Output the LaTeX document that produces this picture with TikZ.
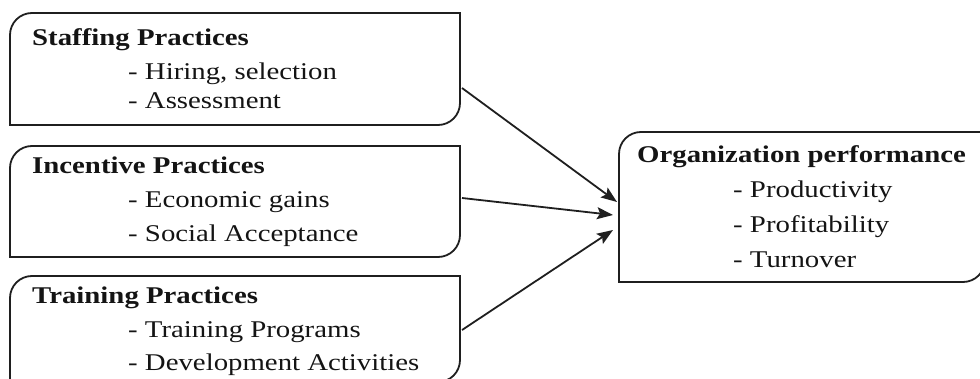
\documentclass[tikz,border=0pt]{standalone}
\usepackage{fontspec}
\setmainfont{Liberation Serif}[FakeStretch=1.2]
\usetikzlibrary{arrows.meta}
\newcommand\roundbox[2]{\draw[outline] (#1.south west) -- ([yshift=-#2]#1.north west) arc[start angle=180,end angle=90,radius=#2] -- (#1.north east) -- ([yshift=#2]#1.south east) arc[start angle=0,end angle=-90,radius=#2] -- cycle;}
\begin{document}
\begin{tikzpicture}[x=1pt,y=1pt,
  boxarea/.style={draw=none, inner sep=0pt, outer sep=0pt, anchor=south west},
  ttl/.style={anchor=base west, inner sep=0pt, font=\fontsize{24}{28}\selectfont\bfseries, text=black!92},
  itm/.style={anchor=base west, inner sep=0pt, font=\fontsize{24}{28}\selectfont, text=black!92},
  outline/.style={line width=1.8pt, draw=black!88},
  arr/.style={line width=1.8pt, draw=black!88, -{Stealth[length=16pt,width=12pt,inset=3pt]}}]
\useasboundingbox (0,0) rectangle (980,378);
\clip (0,0) rectangle (980,378);
% box areas
\node[boxarea, minimum width=450pt, minimum height=112pt] (b1) at (10,253) {};
\node[boxarea, minimum width=450pt, minimum height=111pt] (b2) at (10,121) {};
\node[boxarea, minimum width=450pt, minimum height=106pt] (b3) at (10,-4) {};
\node[boxarea, minimum width=366pt, minimum height=150pt] (b4) at (619,96) {};
\roundbox{b1}{22pt}
\roundbox{b2}{22pt}
\roundbox{b3}{22pt}
\roundbox{b4}{22pt}
% texts
\node[ttl] (s0) at (32,332) {Staffing Practices};
\node[itm] (s1) at (128,298) {- Hiring, selection};
\node[itm] (s2) at (128,269) {- Assessment};
\node[ttl] (i0) at (32,204) {Incentive Practices};
\node[itm] (i1) at (128,170) {- Economic gains};
\node[itm] (i2) at (128,136) {- Social Acceptance};
\node[ttl] (t0) at (32,75) {Training Practices};
\node[itm] (t1) at (128,41) {- Training Programs};
\node[itm] (t2) at (128,8) {- Development Activities};
\node[ttl] (o0) at (637,215) {Organization performance};
\node[itm] (o1) at (733,180) {- Productivity};
\node[itm] (o2) at (733,146) {- Profitability};
\node[itm] (o3) at (733,111) {- Turnover};
% arrow ends
\coordinate (e1) at ([xshift=-2pt,yshift=5pt]b4.west);
\coordinate (e2) at ([xshift=-6pt,yshift=-8pt]b4.west);
\coordinate (e3) at ([xshift=-6pt,yshift=-23pt]b4.west);
\draw[arr] ([xshift=2pt,yshift=-19pt]b1.east) -- (e1);
\draw[arr] ([xshift=2pt,yshift=3.5pt]b2.east) -- (e2);
\draw[arr] ([xshift=2pt,yshift=-1pt]b3.east) -- (e3);
\end{tikzpicture}
\end{document}
